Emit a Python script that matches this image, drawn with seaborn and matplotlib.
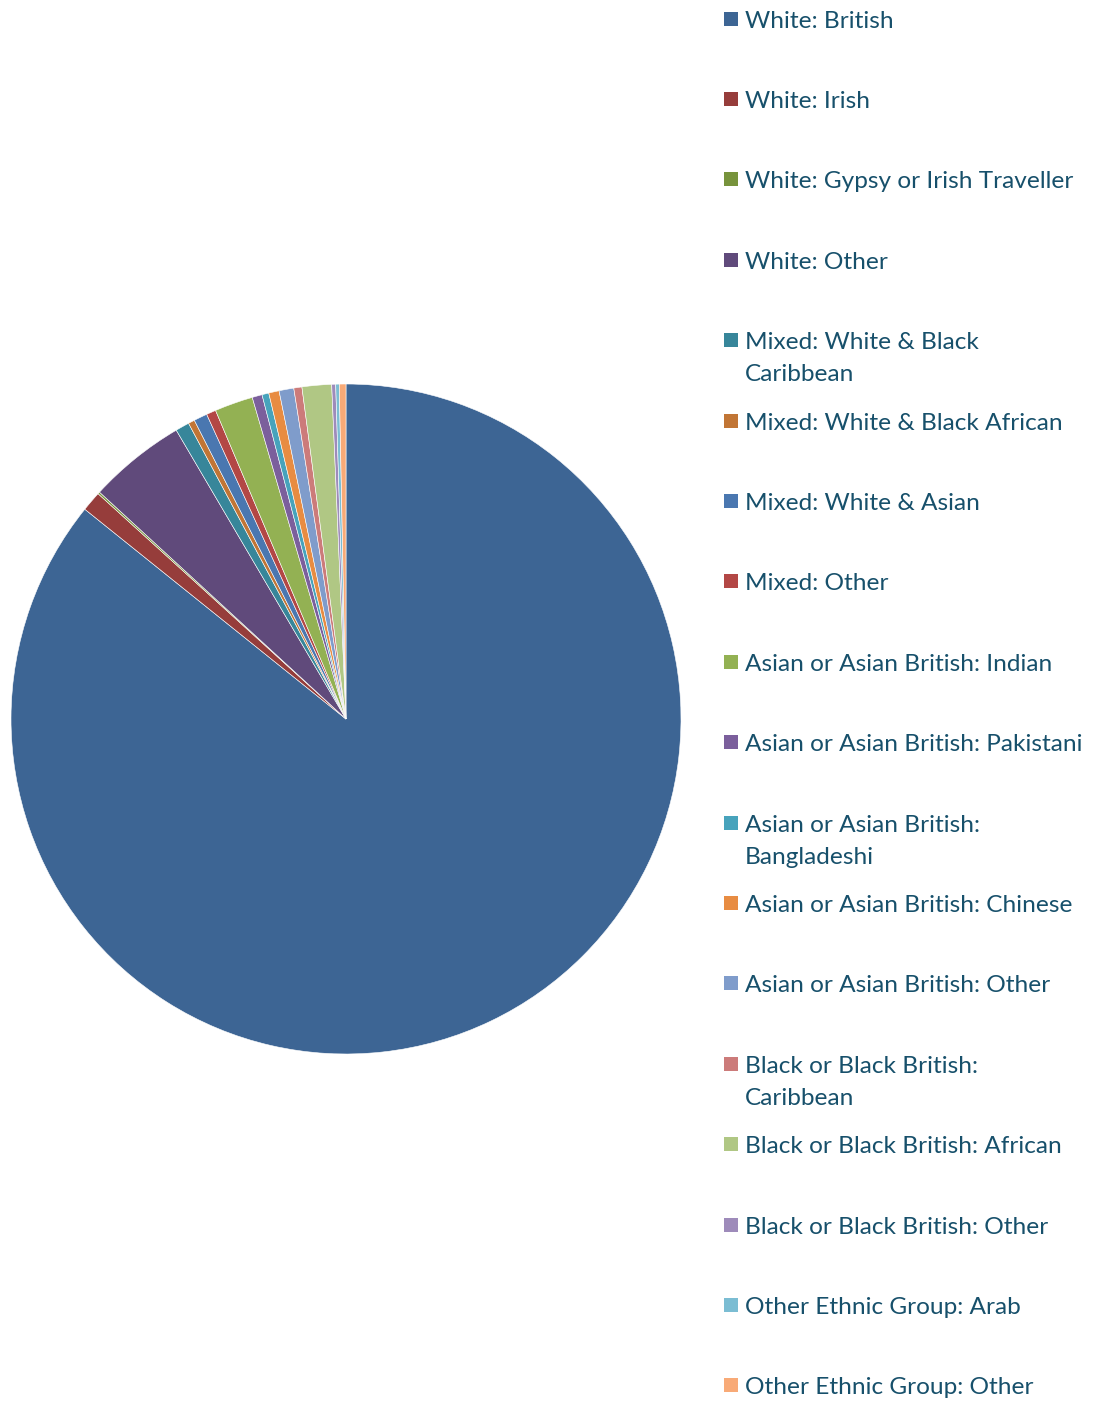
import matplotlib
matplotlib.use("Agg")
import matplotlib.pyplot as plt
import seaborn as sns

# Ethnic groups (percent of population)
groups = [
    "White: British",
    "White: Irish",
    "White: Gypsy or Irish Traveller",
    "White: Other",
    "Mixed: White & Black\nCaribbean",
    "Mixed: White & Black African",
    "Mixed: White & Asian",
    "Mixed: Other",
    "Asian or Asian British: Indian",
    "Asian or Asian British: Pakistani",
    "Asian or Asian British:\nBangladeshi",
    "Asian or Asian British: Chinese",
    "Asian or Asian British: Other",
    "Black or Black British:\nCaribbean",
    "Black or Black British: African",
    "Black or Black British: Other",
    "Other Ethnic Group: Arab",
    "Other Ethnic Group: Other",
]
shares = [85.7, 0.97, 0.10, 4.70, 0.67, 0.31, 0.65, 0.46, 1.85,
          0.48, 0.33, 0.50, 0.71, 0.39, 1.42, 0.19, 0.17, 0.32]
colors = ["#3D6594", "#963D3B", "#77933C", "#604A7B", "#37869A", "#C17535",
          "#4A77B0", "#B34745", "#93B153", "#7B5F9C", "#47A3BC", "#E88C42",
          "#7F9CCB", "#CC7B7A", "#B0C784", "#9E8BBA", "#7BBDD3", "#F8AA77"]

sns.set_theme(style="white")
plt.rcParams["font.family"] = ["Lato", "DejaVu Sans"]

W, H = 1098, 1402
fig = plt.figure(figsize=(W / 100, H / 100), dpi=100)

# pie axes: centre (346, 719) px, radius 335 px
r = 335
ax = fig.add_axes([(346 - r) / W, (H - 719 - r) / H, 2 * r / W, 2 * r / H])
ax.pie(shares, colors=colors, startangle=90, counterclock=False,
       wedgeprops=dict(linewidth=0.4, edgecolor="white"))
ax.set_xlim(-1, 1)
ax.set_ylim(-1, 1)
ax.set_aspect("equal")
ax.axis("off")

# legend drawn as a column: first line of each entry every ~80.4 px
text_color = "#17506B"
y0, step, line_h = 19, 80.4, 32
for i, (lab, c) in enumerate(zip(groups, colors)):
    y = y0 + i * step
    fig.patches.append(plt.Rectangle((724 / W, (H - y - 6.5) / H), 14 / W, 14 / H,
                                     transform=fig.transFigure, facecolor=c,
                                     edgecolor="none"))
    for k, line in enumerate(lab.split("\n")):
        fig.text(745 / W, (H - y - k * line_h) / H, line, ha="left",
                 va="center_baseline", fontsize=17.6, color=text_color)

fig.savefig("out.png", dpi=100)
